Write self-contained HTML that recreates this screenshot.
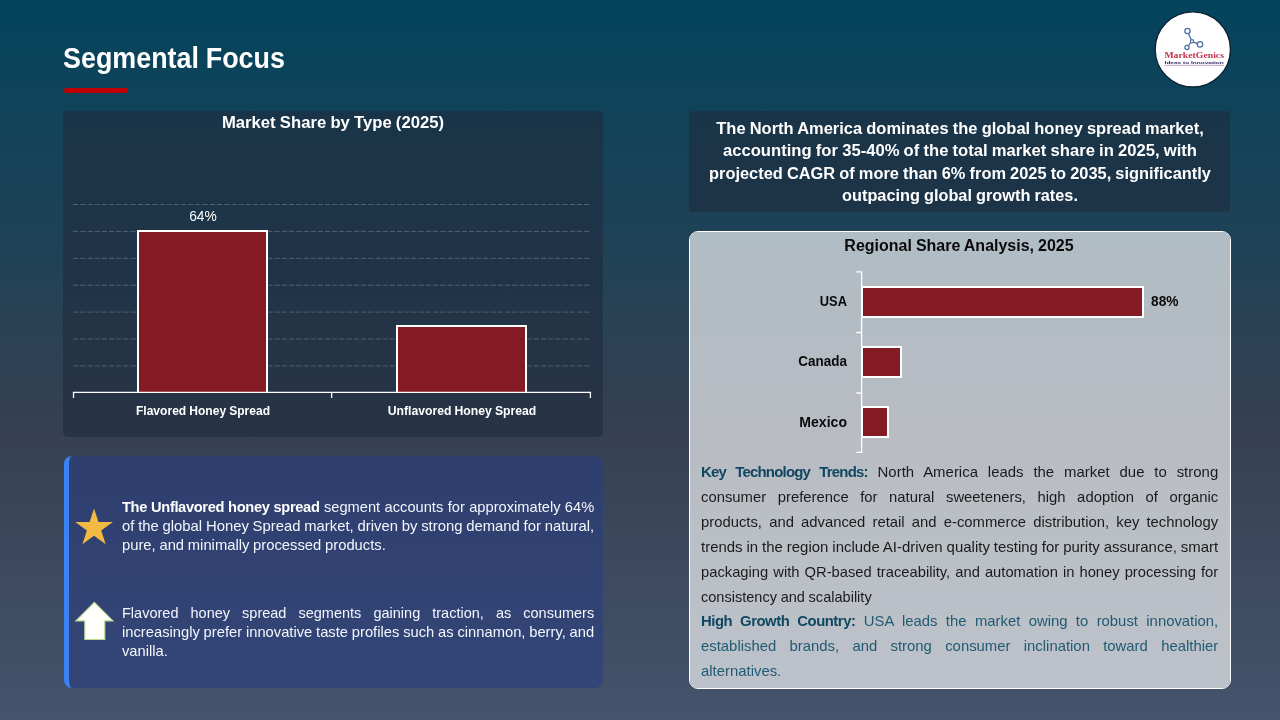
<!DOCTYPE html>
<html lang="en"><head><meta charset="utf-8"><title>Segmental Focus</title>
<style>
html,body{margin:0;padding:0}
body{width:1280px;height:720px;overflow:hidden;position:relative;font-family:'Liberation Sans', sans-serif;
background:linear-gradient(180deg,#03445c 0%,#364052 60%,#44546c 100%);}
.t{position:absolute;white-space:nowrap;margin:0}
.abs{position:absolute}
#redbar{left:63.8px;top:87.6px;width:64.2px;height:5px;border-radius:2.5px;background:#c00000}
#card1{left:63.4px;top:111px;width:539.6px;height:326px;border-radius:5px;background:rgba(32,43,61,.6)}
#card2{left:64px;top:456px;width:534px;height:232px;border-radius:8px;border-left:5px solid #3b82f6;background:rgba(42,62,128,.6);background-clip:padding-box}
#info{left:688.75px;top:111.25px;width:541px;height:101.2px;border-radius:4px;background:rgba(32,43,61,.6)}
#card3{left:688.75px;top:230.6px;width:540px;height:456.2px;border-radius:9px;border:1.25px solid #fff;background:rgba(255,255,255,.65);background-clip:padding-box}
.bar{position:absolute;background:#841a24;border:2px solid #fff;box-sizing:border-box}
svg{position:absolute;left:0;top:0;overflow:visible}
</style></head>
<body>

<div class="abs" id="redbar"></div>
<div class="abs" id="card1"></div>
<div class="abs" id="card2"></div>
<div class="abs" id="info"></div>
<div class="abs" id="card3"></div>
<svg width="1280" height="720" viewBox="0 0 1280 720">
 <g stroke="rgba(255,255,255,.26)" stroke-width="0.85" stroke-dasharray="5.2 2" fill="none"><line x1="73" x2="590" y1="204.50" y2="204.50"/><line x1="73" x2="590" y1="231.40" y2="231.40"/><line x1="73" x2="590" y1="258.30" y2="258.30"/><line x1="73" x2="590" y1="285.20" y2="285.20"/><line x1="73" x2="590" y1="312.10" y2="312.10"/><line x1="73" x2="590" y1="339.00" y2="339.00"/><line x1="73" x2="590" y1="365.90" y2="365.90"/></g>
 <polygon points="94.05,508.40 98.50,522.08 112.88,522.08 101.24,530.54 105.69,544.22 94.05,535.76 82.41,544.22 86.86,530.54 75.22,522.08 89.60,522.08" fill="#f2ba42"/>
 <polygon points="94.4,602.3 113,620.9 104.8,620.9 104.8,639.5 84.8,639.5 84.8,620.9 75.8,620.9" fill="#fffffb" stroke="#b9dc90" stroke-width="1.1"/>
</svg>
<div class="bar" style="left:137px;top:229.9px;width:131px;height:162.3px;border-bottom:0"></div>
<div class="bar" style="left:396px;top:325.1px;width:131px;height:67.1px;border-bottom:0"></div>
<div class="bar" style="left:860.6px;top:286px;width:283.6px;height:32px"></div>
<div class="bar" style="left:860.6px;top:346.4px;width:41.3px;height:32px"></div>
<div class="bar" style="left:860.6px;top:406.2px;width:28.5px;height:32px"></div>
<svg width="1280" height="720" viewBox="0 0 1280 720">
 <g stroke="#fff" stroke-width="1.3" fill="none">
  <path d="M73.5 398V392.4H590.4V398M331.6 392.4V398"/>
  <path d="M856.3 271.8H861.6V452.3H856.3M856.3 332.5H861.6M856.3 393H861.6"/>
 </g>
</svg>


<svg width="1280" height="720" viewBox="0 0 1280 720">
 <circle cx="1192.8" cy="49.4" r="37.6" fill="#fff" stroke="#0c2233" stroke-width="1.3"/>
 <g stroke="#4a6da3" stroke-width="1.25" fill="#fff">
  <path d="M1188.4 33.6L1191.4 40M1193.6 42.2L1197.2 43.6M1190.6 42.8L1188.4 45.6" fill="none"/>
  <circle cx="1187.5" cy="31" r="2.7"/>
  <circle cx="1200" cy="44.4" r="2.7"/>
  <circle cx="1187" cy="47.4" r="2.1"/>
  <circle cx="1192" cy="41.3" r="1.6"/>
 </g>
 <text x="1164.4" y="58.1" font-family="'Liberation Serif', serif" font-weight="700" font-size="7.6" fill="#c5304a" textLength="59.6" lengthAdjust="spacingAndGlyphs">MarketGenics</text>
 <text x="1164.6" y="64" font-family="'Liberation Sans', sans-serif" font-weight="700" font-size="3.9" fill="#2b2a63" textLength="59.2" lengthAdjust="spacingAndGlyphs">Ideas to Innovation</text>
 <line x1="1164.4" x2="1224" y1="65.3" y2="65.3" stroke="#7a4a7a" stroke-width="0.5"/>
</svg>

<div class="t" id="t0" style="top:39.80px;font-size:28.80px;line-height:37px;height:37px;color:#fff;word-spacing:-0.774px;font-weight:700;left:63.00px;transform:scaleX(0.9337);transform-origin:0 0;">Segmental Focus</div>
<div class="t" id="ct" style="top:111.80px;font-size:16.80px;line-height:22px;height:22px;color:#fff;word-spacing:-0.452px;font-weight:700;left:33.30px;width:600px;text-align:center;transform:scaleX(0.9935);transform-origin:50% 0;">Market Share by Type (2025)</div>
<div class="t" id="v64" style="top:206.80px;font-size:14.40px;line-height:19px;height:19px;color:#fff;word-spacing:-0.387px;left:-97.20px;width:600px;text-align:center;transform:scaleX(0.9599);transform-origin:50% 0;">64%</div>
<div class="t" id="c1" style="top:403.30px;font-size:12.60px;line-height:16px;height:16px;color:#fff;word-spacing:-0.339px;font-weight:700;left:-97.40px;width:600px;text-align:center;transform:scaleX(0.9583);transform-origin:50% 0;">Flavored Honey Spread</div>
<div class="t" id="c2" style="top:403.30px;font-size:12.60px;line-height:16px;height:16px;color:#fff;word-spacing:-0.339px;font-weight:700;left:161.80px;width:600px;text-align:center;transform:scaleX(0.9695);transform-origin:50% 0;">Unflavored Honey Spread</div>
<div class="t" id="a1" style="top:497.80px;font-size:14.40px;line-height:19px;height:19px;color:#f3f6fc;word-spacing:-0.387px;left:122.00px;width:463.41px;text-align:justify;text-align-last:justify;transform:scaleX(1.0190);transform-origin:0 0;"><b style="color:#fff;letter-spacing:-0.350px">The Unflavored honey spread</b> segment accounts for approximately 64%</div>
<div class="t" id="a2" style="top:516.80px;font-size:14.40px;line-height:19px;height:19px;color:#f3f6fc;word-spacing:-0.387px;left:122.00px;width:457.95px;text-align:justify;text-align-last:justify;transform:scaleX(1.0311);transform-origin:0 0;">of the global Honey Spread market, driven by strong demand for natural,</div>
<div class="t" id="a3" style="top:535.80px;font-size:14.40px;line-height:19px;height:19px;color:#f3f6fc;word-spacing:-0.387px;left:122.00px;transform:scaleX(1.0273);transform-origin:0 0;">pure, and minimally processed products.</div>
<div class="t" id="b1" style="top:603.80px;font-size:14.40px;line-height:19px;height:19px;color:#f3f6fc;word-spacing:-0.387px;left:122.00px;width:468.24px;text-align:justify;text-align-last:justify;transform:scaleX(1.0085);transform-origin:0 0;">Flavored honey spread segments gaining traction, as consumers</div>
<div class="t" id="b2" style="top:622.80px;font-size:14.40px;line-height:19px;height:19px;color:#f3f6fc;word-spacing:-0.387px;left:122.00px;width:461.22px;text-align:justify;text-align-last:justify;transform:scaleX(1.0238);transform-origin:0 0;">increasingly prefer innovative taste profiles such as cinnamon, berry, and</div>
<div class="t" id="b3" style="top:641.80px;font-size:14.40px;line-height:19px;height:19px;color:#f3f6fc;word-spacing:-0.387px;left:122.00px;transform:scaleX(1.0220);transform-origin:0 0;">vanilla.</div>
<div class="t" id="n0" style="top:117.80px;font-size:16.80px;line-height:22px;height:22px;color:#fff;word-spacing:-0.452px;font-weight:700;left:660.30px;width:600px;text-align:center;transform:scaleX(0.9817);transform-origin:50% 0;">The North America dominates the global honey spread market,</div>
<div class="t" id="n1" style="top:139.80px;font-size:16.80px;line-height:22px;height:22px;color:#fff;word-spacing:-0.452px;font-weight:700;left:660.30px;width:600px;text-align:center;transform:scaleX(0.9906);transform-origin:50% 0;">accounting for 35-40% of the total market share in 2025, with</div>
<div class="t" id="n2" style="top:162.80px;font-size:16.80px;line-height:22px;height:22px;color:#fff;word-spacing:-0.452px;font-weight:700;left:660.30px;width:600px;text-align:center;transform:scaleX(0.9767);transform-origin:50% 0;">projected CAGR of more than 6% from 2025 to 2035, significantly</div>
<div class="t" id="n3" style="top:184.80px;font-size:16.80px;line-height:22px;height:22px;color:#fff;word-spacing:-0.452px;font-weight:700;left:660.30px;width:600px;text-align:center;transform:scaleX(0.9711);transform-origin:50% 0;">outpacing global growth rates.</div>
<div class="t" id="rt" style="top:234.80px;font-size:16.80px;line-height:22px;height:22px;color:#0a0a0a;word-spacing:-0.452px;font-weight:700;left:659.20px;width:600px;text-align:center;transform:scaleX(0.9534);transform-origin:50% 0;">Regional Share Analysis, 2025</div>
<div class="t" id="r1" style="top:292.30px;font-size:14.22px;line-height:18px;height:18px;color:#0a0a0a;word-spacing:-0.382px;font-weight:700;left:547.00px;width:300px;text-align:right;transform:scaleX(0.9048);transform-origin:100% 0;">USA</div>
<div class="t" id="r2" style="top:352.30px;font-size:14.22px;line-height:18px;height:18px;color:#0a0a0a;word-spacing:-0.382px;font-weight:700;left:547.00px;width:300px;text-align:right;transform:scaleX(0.9483);transform-origin:100% 0;">Canada</div>
<div class="t" id="r3" style="top:413.30px;font-size:14.22px;line-height:18px;height:18px;color:#0a0a0a;word-spacing:-0.382px;font-weight:700;left:547.00px;width:300px;text-align:right;transform:scaleX(0.9890);transform-origin:100% 0;">Mexico</div>
<div class="t" id="r88" style="top:292.30px;font-size:14.22px;line-height:18px;height:18px;color:#0a0a0a;word-spacing:-0.382px;font-weight:700;left:1150.80px;transform:scaleX(0.9671);transform-origin:0 0;">88%</div>
<div class="t" id="p0" style="top:462.80px;font-size:14.40px;line-height:19px;height:19px;color:#1b1b1b;word-spacing:-0.387px;left:701.40px;width:497.71px;text-align:justify;text-align-last:justify;transform:scaleX(1.0392);transform-origin:0 0;"><b style="color:#0f4761;letter-spacing:-0.751px">Key Technology Trends:</b> North America leads the market due to strong</div>
<div class="t" id="p1" style="top:487.80px;font-size:14.40px;line-height:19px;height:19px;color:#1b1b1b;word-spacing:-0.387px;left:701.40px;width:501.61px;text-align:justify;text-align-last:justify;transform:scaleX(1.0311);transform-origin:0 0;">consumer preference for natural sweeteners, high adoption of organic</div>
<div class="t" id="p2" style="top:512.80px;font-size:14.40px;line-height:19px;height:19px;color:#1b1b1b;word-spacing:-0.387px;left:701.40px;width:501.97px;text-align:justify;text-align-last:justify;transform:scaleX(1.0303);transform-origin:0 0;">products, and advanced retail and e-commerce distribution, key technology</div>
<div class="t" id="p3" style="top:537.80px;font-size:14.40px;line-height:19px;height:19px;color:#1b1b1b;word-spacing:-0.387px;left:701.40px;width:497.50px;text-align:justify;text-align-last:justify;transform:scaleX(1.0396);transform-origin:0 0;">trends in the region include AI-driven quality testing for purity assurance, smart</div>
<div class="t" id="p4" style="top:562.80px;font-size:14.40px;line-height:19px;height:19px;color:#1b1b1b;word-spacing:-0.387px;left:701.40px;width:505.02px;text-align:justify;text-align-last:justify;transform:scaleX(1.0241);transform-origin:0 0;">packaging with QR-based traceability, and automation in honey processing for</div>
<div class="t" id="p5" style="top:587.80px;font-size:14.40px;line-height:19px;height:19px;color:#1b1b1b;word-spacing:-0.387px;left:701.40px;transform:scaleX(1.0110);transform-origin:0 0;">consistency and scalability</div>
<div class="t" id="p6" style="top:611.80px;font-size:14.40px;line-height:19px;height:19px;color:#215a73;word-spacing:-0.387px;left:701.40px;width:500.84px;text-align:justify;text-align-last:justify;transform:scaleX(1.0327);transform-origin:0 0;"><b style="color:#0f4761;letter-spacing:-0.446px">High Growth Country:</b> USA leads the market owing to robust innovation,</div>
<div class="t" id="p7" style="top:636.80px;font-size:14.40px;line-height:19px;height:19px;color:#215a73;word-spacing:-0.387px;left:701.40px;width:500.47px;text-align:justify;text-align-last:justify;transform:scaleX(1.0334);transform-origin:0 0;">established brands, and strong consumer inclination toward healthier</div>
<div class="t" id="p8" style="top:661.80px;font-size:14.40px;line-height:19px;height:19px;color:#215a73;word-spacing:-0.387px;left:701.40px;transform:scaleX(1.0340);transform-origin:0 0;">alternatives.</div>
</body></html>
